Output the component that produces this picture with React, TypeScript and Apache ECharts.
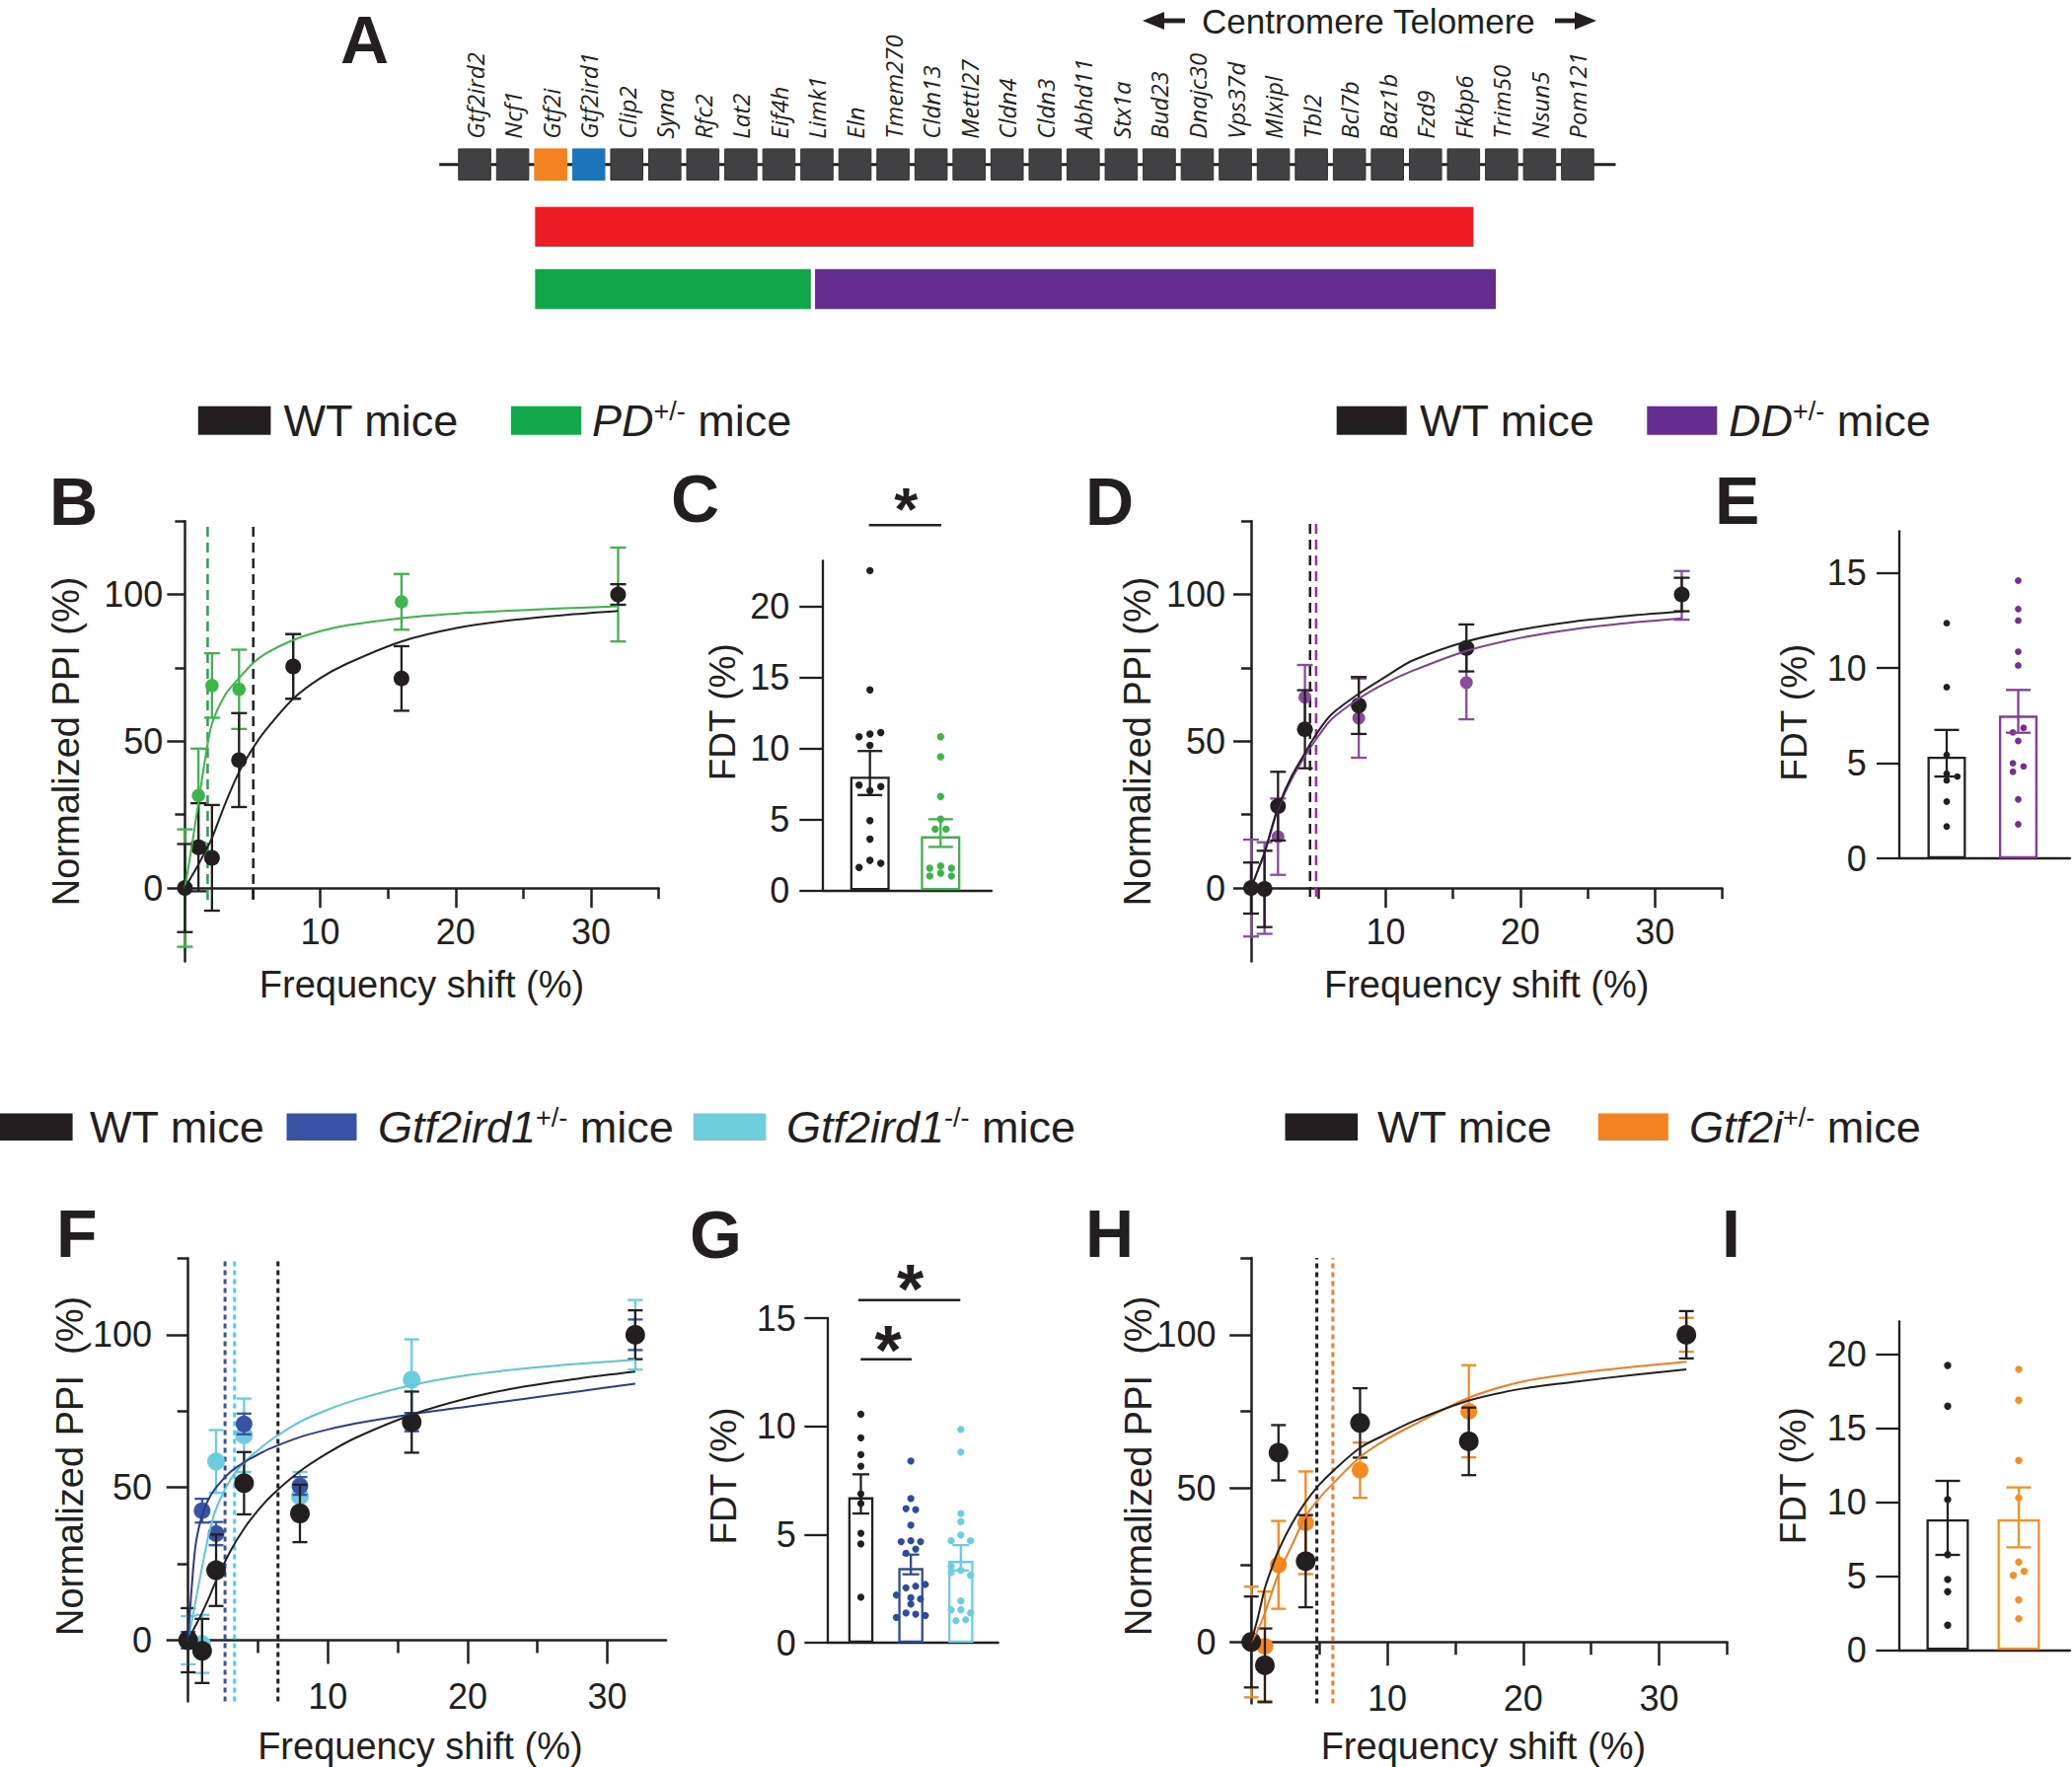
import React, { useEffect, useRef } from 'react';
import * as echarts from 'echarts';

const FONT = '"Liberation Sans", Arial, Helvetica, sans-serif';
const GENE_FONT = '"Open Sans", "Noto Sans", "DejaVu Sans", sans-serif';
const INK = '#231f20';

// ================= Panel A : gene map =================
const genes = ['Gtf2ird2', 'Ncf1', 'Gtf2i', 'Gtf2ird1', 'Clip2', 'Syna', 'Rfc2', 'Lat2', 'Eif4h', 'Limk1', 'Eln', 'Tmem270', 'Cldn13', 'Mettl27', 'Cldn4', 'Cldn3', 'Abhd11', 'Stx1a', 'Bud23', 'Dnajc30', 'Vps37d', 'Mlxipl', 'Tbl2', 'Bcl7b', 'Baz1b', 'Fzd9', 'Fkbp6', 'Trim50', 'Nsun5', 'Pom121'];
const geneHighlight: Record<string, string> = { Gtf2i: '#f58220', Gtf2ird1: '#1c75bc' };
const deletionLabel = ['PD + DD', 'PD', 'DD'];
const deletionStart = [1.59, 1.59, 8.95];
const deletionEnd = [26.26, 8.84, 26.85];
const deletionRow = [1, 2, 2];
const deletionColor = ['#ed1c24', '#12a64b', '#662d91'];
const chromosomeSpan = [-0.93, 30.0];

// ================= PPI curves (B, D, F, H) =================
const freqShift = [0, 1, 2, 4, 8, 16, 32];
const fitX = [0, 0.5, 1, 1.5, 2, 3, 4, 5, 6, 8, 10, 12, 16, 20, 24, 28, 32];
const xMajorTicks = [10, 20, 30];
const xMinorTicks = [5, 15, 25, 35];
const yMajorTicks = [0, 50, 100];
const yMinorTicks = [25, 75, 125];

// B
const bWtMean = [0, 13.9, 10.3, 43.6, 75.5, 71.4, 100];
const bWtSem = [15, 15, 18, 16, 11, 11, 3.5];
const bPdMean = [0, 31.5, 69, 67.7, 75.5, 97.5, 100];
const bPdSem = [20, 16, 11, 13.5, 11, 9.5, 16];
const bWtFit = [0, 4, 8, 12.5, 17, 29, 39.5, 47.5, 54, 64.5, 71.5, 76.5, 84, 88.5, 91.2, 93, 94.4];
const bPdFit = [0, 14, 29, 44, 56, 66, 71.5, 76.5, 80, 84.5, 87.5, 89.5, 92, 93.5, 94.5, 95.3, 96];
const bFdt = [5.05, 1.68];

// D
const dWtMean = [0, -0.3, 27.9, 54.1, 62.2, 81.8, 100];
const dWtSem = [8.7, 13, 11.7, 13.3, 9.7, 8, 5.7];
const dDdMean = [0, 0, 17.5, 65, 57.9, 70, 99.7];
const dDdSem = [16.5, 15.6, 13, 11, 13.5, 12.5, 8.3];
const dWtFit = [0, 6, 12, 20, 27.5, 38, 46, 53.5, 59.3, 66.2, 72, 77.5, 84, 88, 90.8, 92.7, 94.2];
const dDdFit = [0, 6, 12, 19.5, 27, 37, 44.9, 51.8, 57.6, 64.5, 69.8, 74, 80.8, 85.2, 88.2, 90.3, 91.9];
const dFdt = [4.38, 4.83];

// F
const fWtMean = [0, -3.5, 22.9, 51.4, 41.5, 71.4, 100];
const fWtSem = [10.5, 10.5, 11.7, 10.2, 9.4, 10, 8];
const fHetMean = [0, 42.4, 34.9, 70.8, 50.5, 71.4, 100];
const fHetSem = [2.7, 3.9, 3.8, 3.4, 2.9, 3, 5];
const fKoMean = [0, -1.2, 58.5, 67.1, 47.1, 85.3, 100];
const fKoSem = [7.9, 9.5, 10.3, 12, 8, 13.2, 11.4];
const fWtFit = [0, 4.5, 9, 14, 19.5, 29, 36.5, 42.5, 47.5, 55.3, 61.3, 66.3, 73.8, 79.2, 83, 85.7, 87.9];
const fHetFit = [0, 30, 41, 46.5, 50, 55, 58.2, 60.8, 63, 66.5, 69, 71, 74, 76.5, 79, 81.5, 84];
const fKoFit = [0, 12, 24, 35, 43, 52.4, 58.2, 62.2, 65.8, 71.5, 75.5, 78.7, 83.5, 86.8, 88.9, 90.5, 91.8];
const fFdt = [6.43, 2.64, 3.32];

// H
const hWtMean = [0, -7.6, 61.6, 26.3, 71.3, 65.3, 100];
const hWtSem = [14.8, 12, 9, 15, 11.3, 11, 7.7];
const hGtf2iMean = [0, -1.4, 25.1, 38.8, 55.9, 75.1, 100];
const hGtf2iSem = [18, 17.8, 14.3, 16.7, 9, 15, 5.5];
const hWtFit = [0, 8.2, 17.5, 24, 29.8, 38.6, 45.6, 51.2, 55.6, 63.2, 67.8, 72, 78.6, 82.5, 84.8, 86.9, 88.7];
const hGtf2iFit = [0, 4, 9.4, 16, 22.2, 31.6, 40.9, 46.8, 51.5, 60.2, 66.1, 70.8, 79.5, 84.8, 87.5, 89.5, 91.2];
const hFdt = [4.82, 6.0];

// ================= FDT bar charts (C, E, G, I) =================
// dots: [jitter column, FDT value]
const cMean = [8.0, 3.8];
const cLow = [6.7, 3.05];
const cHigh = [9.8, 5.0];
const cWtDots = [[0, 22.5], [0, 14.1], [-1, 10.8], [0, 11.0], [1, 11.1], [0, 10.2], [-1, 7.4], [0, 7.0], [1, 7.3], [0, 4.9], [0, 3.6], [-1, 1.6], [0, 2.1], [1, 1.9]];
const cPdDots = [[0, 10.8], [0, 9.4], [0, 6.6], [0, 5.0], [-0.5, 4.3], [0.5, 4.3], [-1, 1.55], [0, 1.7], [1, 1.55], [-1, 1.0], [0, 1.2], [1, 1.0]];

const eMean = [5.34, 7.5];
const eLow = [4.3, 6.6];
const eHigh = [6.75, 8.85];
const eWtDots = [[0, 12.36], [0, 9.0], [0, 5.43], [0, 4.45], [2, 4.3], [0, 4.1], [0, 2.98], [0, 1.67]];
const eDdDots = [[0, 14.6], [0, 13.1], [0, 12.5], [0, 10.86], [0, 10.14], [-1, 6.62], [1, 6.86], [0, 6.17], [-1, 5.0], [1, 4.83], [-1, 4.55], [0, 3.1], [0, 1.79]];

const gMean = [6.72, 3.45, 3.78];
const gLow = [5.97, 3.16, 3.34];
const gHigh = [7.78, 4.07, 4.51];
const gWtDots = [[0, 10.56], [0, 9.47], [0, 8.69], [0, 8.16], [0, 6.88], [0, 6.43], [0, 5.06], [0, 4.56], [0, 2.1]];
const gHetDots = [[0, 8.39], [0, 6.66], [-1, 6.2], [1, 6.15], [0, 5.43], [-2, 4.67], [0, 4.71], [2, 4.67], [-1, 4.13], [1, 4.33], [-1, 2.54], [1, 2.61], [3, 2.69], [-3, 2.2], [0, 2.08], [2, 2.02], [0, 1.78], [-1, 1.37], [1, 1.32], [-3, 1.17], [3, 1.26]];
const gKoDots = [[0, 9.85], [0, 8.81], [0, 5.97], [0, 5.59], [0, 4.98], [-2, 4.71], [2, 4.71], [-2, 3.53], [0, 3.34], [2, 3.12], [-2, 3.24], [0, 1.93], [-2, 1.52], [0, 1.52], [2, 1.37], [-1, 1.02], [1, 1.06]];

const iMean = [8.82, 8.82];
const iLow = [6.42, 6.93];
const iHigh = [11.42, 10.98];
const iWtDots = [[0, 19.22], [0, 16.47], [0, 10.16], [0, 6.44], [0, 4.76], [0, 3.93], [0, 1.67]];
const iGtf2iDots = [[0, 18.96], [0, 16.87], [0, 12.8], [0, 10.27], [0, 5.93], [-1, 5.04], [1, 5.31], [0, 3.38], [0, 2.11]];

// ================= colours =================
const C_GREEN = '#3cb54a';
const C_PURPLE = '#8a4c9e';
const C_BLUE = '#3953a4';
const C_CYAN = '#6ccde0';
const C_ORANGE = '#f6891f';

function errRender(color: string, capW: number, lw: number) {
  return (params: any, api: any) => {
    const x = api.value(0);
    const a = api.coord([x, api.value(1)]);
    const b = api.coord([x, api.value(2)]);
    const st = { stroke: color, lineWidth: lw, fill: null };
    return {
      type: 'group',
      children: [
        { type: 'line', shape: { x1: a[0], y1: a[1], x2: b[0], y2: b[1] }, style: st },
        { type: 'line', shape: { x1: a[0] - capW / 2, y1: a[1], x2: a[0] + capW / 2, y2: a[1] }, style: st },
        { type: 'line', shape: { x1: b[0] - capW / 2, y1: b[1], x2: b[0] + capW / 2, y2: b[1] }, style: st },
      ],
    };
  };
}

function buildOption() {
  const grid: any[] = [];
  const xAxis: any[] = [];
  const yAxis: any[] = [];
  const series: any[] = [];
  const graphic: any[] = [];
  const txt = (size: number) => ({ fontSize: size, fontFamily: FONT, color: INK });

  // ---------- Panel A ----------
  const gA = grid.length;
  grid.push({ left: 445.2, top: 166.7, width: 1192.3, height: 126.3, outerBoundsMode: 'none' });
  const xA = xAxis.length;
  xAxis.push({ type: 'value', gridIndex: gA, min: chromosomeSpan[0], max: chromosomeSpan[1], show: false, splitLine: { show: false } });
  const yA = yAxis.length;
  yAxis.push({ type: 'value', gridIndex: gA, min: 0, max: 2, inverse: true, show: false, splitLine: { show: false } });
  series.push({
    type: 'line', name: 'Chromosome', xAxisIndex: xA, yAxisIndex: yA, silent: true, z: 1, clip: false,
    data: chromosomeSpan.map((x) => [x, 0]), symbol: 'none', lineStyle: { color: INK, width: 3 },
  });
  series.push({
    type: 'custom', name: 'Genes', xAxisIndex: xA, yAxisIndex: yA, silent: true, z: 2, clip: false,
    data: genes.map((g, i) => [i, 0]), encode: { x: 0, y: 1 },
    renderItem: (params: any, api: any) => {
      const c = api.coord([api.value(0), api.value(1)]);
      const name = genes[params.dataIndex];
      const fill = geneHighlight[name] || '#414042';
      return {
        type: 'group',
        children: [
          { type: 'rect', shape: { x: c[0] - 16.3, y: c[1] - 15.8, width: 32.6, height: 31.6 }, style: { fill, stroke: geneHighlight[name] ? fill : '#333334', lineWidth: 1 } },
          {
            type: 'text', x: c[0], y: c[1] - 26, rotation: Math.PI / 2,
            style: { text: name, fill: INK, fontSize: 24, fontStyle: 'italic', fontFamily: GENE_FONT, textAlign: 'left', textVerticalAlign: 'middle', align: 'left', verticalAlign: 'middle' },
          },
        ],
      };
    },
  });
  series.push({
    type: 'custom', name: 'Deletions', xAxisIndex: xA, yAxisIndex: yA, silent: true, z: 2, clip: false,
    data: deletionStart.map((s, i) => [s, deletionEnd[i], deletionRow[i], deletionLabel[i]]),
    encode: { x: [0, 1], y: 2 },
    renderItem: (params: any, api: any) => {
      const a = api.coord([api.value(0), api.value(2)]);
      const b = api.coord([api.value(1), api.value(2)]);
      return { type: 'rect', shape: { x: a[0], y: a[1] - 20.2, width: b[0] - a[0], height: 40.4 }, style: { fill: deletionColor[params.dataIndex] } };
    },
  });

  // ---------- line panels ----------
  const addLinePanel = (c: any) => {
    const gi = grid.length;
    grid.push({ left: c.left, top: c.top, width: c.width, height: c.height, outerBoundsMode: 'none' });
    const pxY = c.height / (c.yMax - c.yMin);
    const off = c.yMin * pxY;
    const line = { show: true, onZero: false, lineStyle: { color: INK, width: 2.5 } };
    const tickStyle = { color: INK, width: 2.5 };
    const xi = xAxis.length;
    xAxis.push({
      type: 'value', gridIndex: gi, min: 0, max: c.xMax, position: 'bottom', offset: off,
      axisLine: line,
      axisTick: { show: true, customValues: xMajorTicks, length: c.tickX[0], lineStyle: tickStyle },
      axisLabel: { show: true, customValues: xMajorTicks, margin: c.xLabelMargin, ...txt(36) },
      splitLine: { show: false },
      name: 'Frequency shift (%)', nameLocation: 'middle', nameGap: c.xNameGap, nameMoveOverlap: false,
      nameTextStyle: { ...txt(38), padding: c.xNamePad },
    });
    xAxis.push({
      type: 'value', gridIndex: gi, min: 0, max: c.xMax, position: 'bottom', offset: off,
      axisLine: { show: false, onZero: false },
      axisTick: { show: true, customValues: xMinorTicks.filter((v) => v <= c.xMax), length: c.tickX[1], lineStyle: tickStyle },
      axisLabel: { show: false }, splitLine: { show: false },
    });
    const yi = yAxis.length;
    yAxis.push({
      type: 'value', gridIndex: gi, min: c.yMin, max: c.yMax, position: 'left',
      axisLine: line,
      axisTick: { show: true, customValues: yMajorTicks, length: c.tickY[0], lineStyle: tickStyle },
      axisLabel: { show: true, customValues: yMajorTicks, margin: c.yLabelMargin, ...txt(36) },
      splitLine: { show: false },
      name: c.yName, nameLocation: 'middle', nameGap: c.yNameGap, nameMoveOverlap: false,
      nameTextStyle: { ...txt(38), padding: c.yNamePad },
    });
    yAxis.push({
      type: 'value', gridIndex: gi, min: c.yMin, max: c.yMax, position: 'left',
      axisLine: { show: false, onZero: false },
      axisTick: { show: true, customValues: yMinorTicks, length: c.tickY[1], lineStyle: tickStyle },
      axisLabel: { show: false }, splitLine: { show: false },
    });
    c.groups.forEach((g: any, k: number) => {
      const z = 2 + k * 2;
      series.push({
        type: 'line', name: g.name + ' FDT', xAxisIndex: xi, yAxisIndex: yi, silent: true, z: 1, clip: false,
        data: [[g.fdt, c.dashBottom], [g.fdt, c.yMax]], symbol: 'none',
        lineStyle: { color: g.dashColor, width: c.dashWidth, type: c.dash },
      });
      series.push({
        type: 'custom', name: g.name + ' SEM', xAxisIndex: xi, yAxisIndex: yi, silent: true, z, clip: false,
        data: freqShift.map((x, i) => [x, g.mean[i] - g.sem[i], g.mean[i] + g.sem[i]]),
        encode: { x: 0, y: [1, 2] },
        renderItem: errRender(g.color, c.capW, 2.3),
      });
      series.push({
        type: 'scatter', name: g.name, xAxisIndex: xi, yAxisIndex: yi, silent: true, z: z + 1, clip: false,
        data: freqShift.map((x, i) => [x, g.mean[i]]), symbolSize: g.size,
        itemStyle: { color: g.color, opacity: 1 },
      });
      series.push({
        type: 'line', name: g.name + ' fit', xAxisIndex: xi, yAxisIndex: yi, silent: true, z: 20, clip: false,
        data: fitX.map((x, i) => [x, g.fit[i]]), symbol: 'none', smooth: 0.3,
        lineStyle: { color: g.fitColor, width: 2 },
      });
    });
  };

  addLinePanel({
    left: 187.4, top: 528.2, width: 480.2, height: 446.3, xMax: 35, yMin: -25, yMax: 125,
    tickX: [20, 11], tickY: [18, 10], xLabelMargin: 26, yLabelMargin: 22, xNameGap: 78.5, xNamePad: [0, 0, 0, 0],
    yName: 'Normalized PPI (%)', yNameGap: 101, yNamePad: [0, 0, 0, 0], capW: 16, dash: [10, 6], dashWidth: 2.5, dashBottom: -4,
    groups: [
      { name: 'PD+/- mice', mean: bPdMean, sem: bPdSem, fit: bPdFit, fdt: bFdt[1], color: C_GREEN, fitColor: C_GREEN, dashColor: '#1fa64b', size: 13.5 },
      { name: 'WT mice', mean: bWtMean, sem: bWtSem, fit: bWtFit, fdt: bFdt[0], color: INK, fitColor: INK, dashColor: INK, size: 16 },
    ],
  });
  addLinePanel({
    left: 1268, top: 528.2, width: 477.4, height: 446.3, xMax: 35, yMin: -25, yMax: 125,
    tickX: [20, 11], tickY: [18, 10], xLabelMargin: 26, yLabelMargin: 26, xNameGap: 78.5, xNamePad: [0, 0, 0, 0],
    yName: 'Normalized PPI (%)', yNameGap: 96, yNamePad: [0, 0, 0, 0], capW: 16, dash: [10, 6], dashWidth: 2.5, dashBottom: -3,
    groups: [
      { name: 'DD+/- mice', mean: dDdMean, sem: dDdSem, fit: dDdFit, fdt: dFdt[1], color: C_PURPLE, fitColor: '#7b3f98', dashColor: '#a3309a', size: 13 },
      { name: 'WT mice', mean: dWtMean, sem: dWtSem, fit: dWtFit, fdt: dFdt[0], color: INK, fitColor: INK, dashColor: INK, size: 16 },
    ],
  });
  addLinePanel({
    left: 190.7, top: 1275.5, width: 484.3, height: 448.9, xMax: 34.2, yMin: -20, yMax: 125,
    tickX: [24, 13], tickY: [22, 11], xLabelMargin: 39.5, yLabelMargin: 36.6, xNameGap: 88.5, xNamePad: [0, 14, 0, 0],
    yName: 'Normalized PPI\u00a0 (%)', yNameGap: 101, yNamePad: [0, 0, 0, 28], capW: 15, dash: [5, 4], dashWidth: 3, dashBottom: -20,
    groups: [
      { name: 'Gtf2ird1-/- mice', mean: fKoMean, sem: fKoSem, fit: fKoFit, fdt: fFdt[2], color: C_CYAN, fitColor: '#5cc6d8', dashColor: '#5fc9dc', size: 18 },
      { name: 'Gtf2ird1+/- mice', mean: fHetMean, sem: fHetSem, fit: fHetFit, fdt: fFdt[1], color: C_BLUE, fitColor: '#2b3b94', dashColor: C_BLUE, size: 17 },
      { name: 'WT mice', mean: fWtMean, sem: fWtSem, fit: fWtFit, fdt: fFdt[0], color: INK, fitColor: INK, dashColor: INK, size: 20 },
    ],
  });
  addLinePanel({
    left: 1268.2, top: 1275.05, width: 482.3, height: 451.5, xMax: 35, yMin: -20, yMax: 125,
    tickX: [24, 13], tickY: [22, 11], xLabelMargin: 39.3, yLabelMargin: 35.6, xNameGap: 86.7, xNamePad: [0, 12, 0, 0],
    yName: 'Normalized PPI\u00a0 (%)', yNameGap: 95, yNamePad: [0, 0, 0, 30], capW: 15, dash: [5, 4], dashWidth: 3, dashBottom: -20,
    groups: [
      { name: 'Gtf2i+/- mice', mean: hGtf2iMean, sem: hGtf2iSem, fit: hGtf2iFit, fdt: hFdt[1], color: C_ORANGE, fitColor: '#f47b20', dashColor: '#f47b20', size: 17 },
      { name: 'WT mice', mean: hWtMean, sem: hWtSem, fit: hWtFit, fdt: hFdt[0], color: INK, fitColor: INK, dashColor: INK, size: 20 },
    ],
  });

  // ---------- bar panels ----------
  const addBarPanel = (c: any) => {
    const gi = grid.length;
    grid.push({ left: c.left, top: c.top, width: c.width, height: c.height, outerBoundsMode: 'none' });
    const xi = xAxis.length;
    xAxis.push({
      type: 'value', gridIndex: gi, min: c.xMin, max: c.xMax,
      axisLine: { show: true, onZero: false, lineStyle: { color: INK, width: 2.3 } },
      axisTick: { show: false }, axisLabel: { show: false }, splitLine: { show: false },
    });
    const yi = yAxis.length;
    yAxis.push({
      type: 'value', gridIndex: gi, min: 0, max: c.yMax,
      axisLine: { show: true, onZero: false, lineStyle: { color: INK, width: 2.3 } },
      axisTick: { show: true, customValues: c.ticks, length: 23, lineStyle: { color: INK, width: 2.3 } },
      axisLabel: { show: true, customValues: c.ticks, margin: c.labelMargin, ...txt(36) },
      splitLine: { show: false },
      name: 'FDT (%)', nameLocation: 'middle', nameGap: c.nameGap, nameMoveOverlap: false,
      nameTextStyle: { ...txt(37), padding: c.namePad },
    });
    series.push({
      type: 'bar', name: c.name + ' mean', xAxisIndex: xi, yAxisIndex: yi, silent: true, z: 2, barWidth: c.barWidth,
      data: c.mean.map((m: number, i: number) => ({ value: [i + 1, m], itemStyle: { color: '#ffffff', borderColor: c.colors[i], borderWidth: 2.3 } })),
    });
    c.dots.forEach((dots: number[][], k: number) => {
      series.push({
        type: 'custom', name: c.groupNames[k], xAxisIndex: xi, yAxisIndex: yi, silent: true, z: 3, clip: false,
        data: dots.map((d) => [k + 1, d[1], d[0]]), encode: { x: 0, y: 1 },
        renderItem: (params: any, api: any) => {
          const p = api.coord([api.value(0), api.value(1)]);
          return { type: 'circle', shape: { cx: p[0] + api.value(2) * c.step, cy: p[1], r: c.r }, style: { fill: c.dotColors[k] } };
        },
      });
    });
    c.mean.forEach((m: number, i: number) => {
      series.push({
        type: 'custom', name: c.groupNames[i] + ' SEM', xAxisIndex: xi, yAxisIndex: yi, silent: true, z: 4, clip: false,
        data: [[i + 1, c.low[i], c.high[i]]], encode: { x: 0, y: [1, 2] },
        renderItem: errRender(c.colors[i], c.capW, 2.3),
      });
    });
  };

  addBarPanel({
    name: 'C', left: 833.3, top: 568.3, width: 171.7, height: 334, yMax: 23.2, xMin: 0.324, xMax: 2.722,
    ticks: [0, 5, 10, 15, 20], labelMargin: 33, nameGap: 82.6, namePad: [0, 0, 0, 27], barWidth: 40, capW: 25, step: 11, r: 3.7,
    mean: cMean, low: cLow, high: cHigh, dots: [cWtDots, cPdDots], groupNames: ['WT mice', 'PD+/- mice'],
    colors: [INK, C_GREEN], dotColors: [INK, C_GREEN],
  });
  addBarPanel({
    name: 'E', left: 1925, top: 538.3, width: 173, height: 331.7, yMax: 17.2, xMin: 0.338, xMax: 2.724,
    ticks: [0, 5, 10, 15], labelMargin: 33.3, nameGap: 87.7, namePad: [0, 36, 0, 0], barWidth: 39, capW: 25, step: 5.4, r: 3.4,
    mean: eMean, low: eLow, high: eHigh, dots: [eWtDots, eDdDots], groupNames: ['WT mice', 'DD+/- mice'],
    colors: [INK, '#7f3f98'], dotColors: [INK, '#7b2e8f'],
  });
  addBarPanel({
    name: 'G', left: 838.3, top: 1336, width: 173.4, height: 329, yMax: 15, xMin: 0.325, xMax: 3.748,
    ticks: [0, 5, 10, 15], labelMargin: 31.6, nameGap: 86, namePad: [0, 0, 0, 9], barWidth: 25.5, capW: 17, step: 4.9, r: 3.6,
    mean: gMean, low: gLow, high: gHigh, dots: [gWtDots, gHetDots, gKoDots], groupNames: ['WT mice', 'Gtf2ird1+/- mice', 'Gtf2ird1-/- mice'],
    colors: [INK, '#2e4c9f', C_CYAN], dotColors: [INK, '#2e4c9f', C_CYAN],
  });
  addBarPanel({
    name: 'I', left: 1924.3, top: 1339.3, width: 173.7, height: 333, yMax: 22.2, xMin: 0.31, xMax: 2.722,
    ticks: [0, 5, 10, 15, 20], labelMargin: 32.6, nameGap: 88.6, namePad: [0, 0, 0, 20], barWidth: 43, capW: 25, step: 5.5, r: 3.7,
    mean: iMean, low: iLow, high: iHigh, dots: [iWtDots, iGtf2iDots], groupNames: ['WT mice', 'Gtf2i+/- mice'],
    colors: [INK, '#f7901e'], dotColors: [INK, '#f7901e'],
  });

  // ---------- annotations ----------
  const letters: [string, number, number][] = [
    ['A', 345, 40], ['B', 50, 508], ['C', 680, 505], ['D', 1100, 508], ['E', 1738, 507],
    ['F', 57, 1250], ['G', 699, 1251], ['H', 1100, 1250], ['I', 1745, 1250],
  ];
  letters.forEach(([t, x, y]) => {
    graphic.push({ type: 'text', x, y, silent: true, style: { text: t, fontSize: 68, lineHeight: 54, fontWeight: 'bold', fontFamily: FONT, fill: INK, textVerticalAlign: 'middle', verticalAlign: 'middle' } });
  });

  // centromere / telomere
  const arrowY = 21;
  graphic.push({ type: 'text', x: 1218, y: 21, silent: true, style: { text: 'Centromere Telomere', fontSize: 35, lineHeight: 28, fontFamily: FONT, fill: INK, textVerticalAlign: 'middle', verticalAlign: 'middle' } });
  graphic.push({ type: 'polygon', silent: true, shape: { points: [[1158, arrowY], [1180, arrowY - 9], [1180, arrowY + 9]] }, style: { fill: INK } });
  graphic.push({ type: 'rect', silent: true, shape: { x: 1178, y: arrowY - 2.4, width: 23, height: 4.8 }, style: { fill: INK } });
  graphic.push({ type: 'polygon', silent: true, shape: { points: [[1618, arrowY], [1596, arrowY - 9], [1596, arrowY + 9]] }, style: { fill: INK } });
  graphic.push({ type: 'rect', silent: true, shape: { x: 1576, y: arrowY - 2.4, width: 22, height: 4.8 }, style: { fill: INK } });

  // legends
  const legendItems: any[] = [
    { x: 200.8, y: 411.7, w: 73.6, h: 29, color: INK, tx: 287.5, label: 'WT mice' },
    { x: 518, y: 411.7, w: 71, h: 29, color: '#12a84b', tx: 600, it: 'PD', sup: '+/-' },
    { x: 1354.7, y: 411.7, w: 71, h: 29, color: INK, tx: 1439, label: 'WT mice' },
    { x: 1669.3, y: 411.7, w: 71, h: 29, color: '#662d91', tx: 1752, it: 'DD', sup: '+/-' },
    { x: 0, y: 1128.5, w: 73.6, h: 27.5, color: INK, tx: 91, label: 'WT mice' },
    { x: 290.5, y: 1128.5, w: 71, h: 27.5, color: '#3953a4', tx: 383, it: 'Gtf2ird1', sup: '+/-' },
    { x: 702.8, y: 1128.5, w: 73.6, h: 27.5, color: '#6ecfdc', tx: 797, it: 'Gtf2ird1', sup: '-/-' },
    { x: 1302.5, y: 1128.5, w: 73.6, h: 27.5, color: INK, tx: 1396, label: 'WT mice' },
    { x: 1619.8, y: 1128.5, w: 71, h: 27.5, color: '#f58220', tx: 1712, it: 'Gtf2i', sup: '+/-' },
  ];
  legendItems.forEach((l) => {
    graphic.push({ type: 'rect', silent: true, shape: { x: l.x, y: l.y, width: l.w, height: l.h }, style: { fill: l.color } });
    const text = l.it ? `{i|${l.it}}{s|${l.sup}}{n| mice}` : `{n|${l.label}}`;
    graphic.push({
      type: 'text', silent: true, x: l.tx, y: l.y + l.h / 2,
      style: {
        text, textVerticalAlign: 'middle', verticalAlign: 'middle',
        rich: {
          i: { fontSize: 45, fontStyle: 'italic', fontFamily: FONT, fill: INK },
          s: { fontSize: 27, fontFamily: FONT, fill: INK, verticalAlign: 'top' },
          n: { fontSize: 45, fontFamily: FONT, fill: INK },
        },
      },
    });
  });

  // significance marks
  const star = (x: number, y: number, size: number) => graphic.push({
    type: 'text', silent: true, x, y,
    style: { text: '*', fontSize: size, fontWeight: 'bold', fontFamily: FONT, fill: INK, textAlign: 'center', align: 'center', textVerticalAlign: 'middle', verticalAlign: 'middle' },
  });
  const bracket = (x1: number, x2: number, y: number) => graphic.push({
    type: 'line', silent: true, shape: { x1, y1: y, x2, y2: y }, style: { stroke: INK, lineWidth: 2.4 },
  });
  star(918.3, 501.7 + 14, 62);
  bracket(880.7, 954, 532.3);
  star(922.5, 1291.7 + 15.7, 70);
  bracket(870, 973.3, 1317.7);
  star(900, 1353.3 + 15.7, 70);
  bracket(872.3, 924, 1377.7);

  return {
    animation: false,
    backgroundColor: '#ffffff',
    grid, xAxis, yAxis, series, graphic,
  };
}

export default function App() {
  const ref = useRef<HTMLDivElement>(null);
  useEffect(() => {
    const chart = echarts.init(ref.current as HTMLDivElement, null, { renderer: 'svg', width: 2100, height: 1791 });
    chart.setOption(buildOption() as any);
    return () => chart.dispose();
  }, []);
  return <div ref={ref} style={{ position: 'absolute', left: 0, top: 0, width: 2100, height: 1791, background: '#fff' }} />;
}
